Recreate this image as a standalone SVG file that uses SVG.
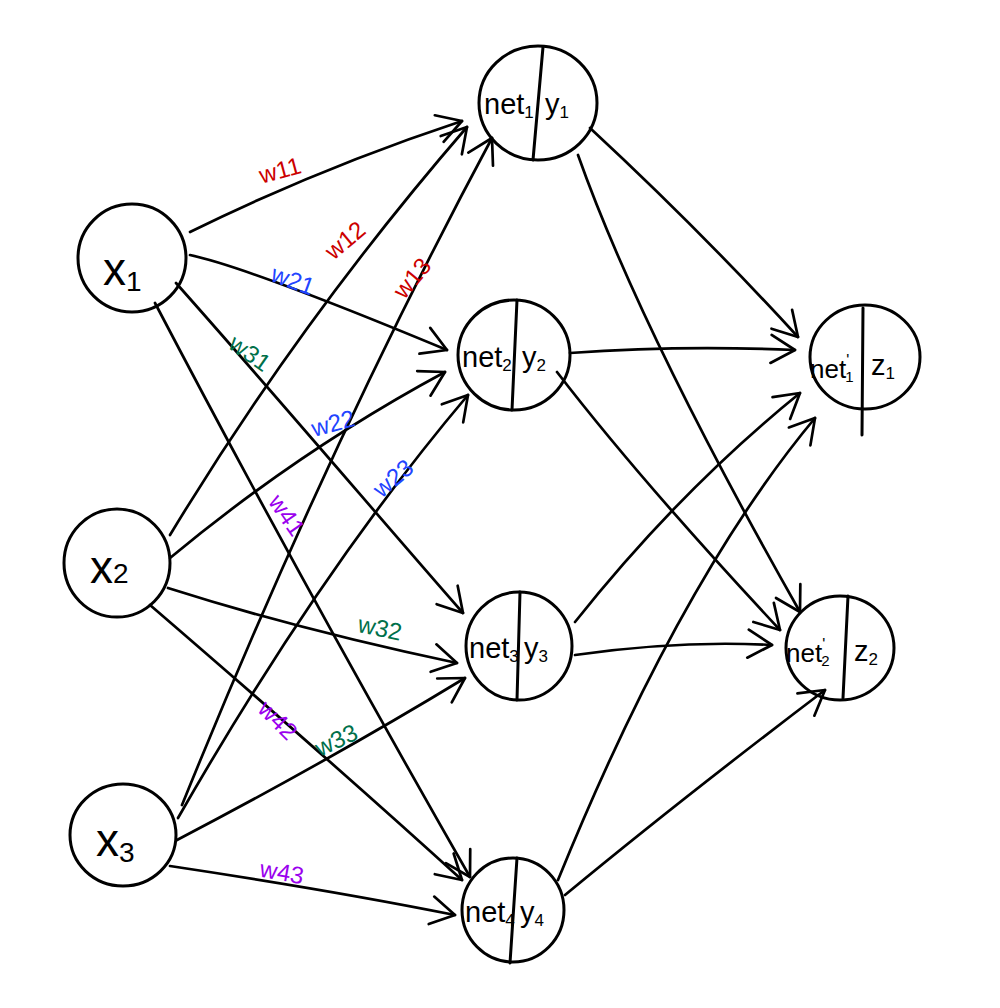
<svg xmlns="http://www.w3.org/2000/svg" width="1000" height="1008" viewBox="0 0 1000 1008">
<style>
.node{fill:none;stroke:#000;stroke-width:3;stroke-linecap:round}
.edge{fill:none;stroke:#000;stroke-width:2.7;stroke-linecap:round}
.t{font-family:"Liberation Sans",Arial,sans-serif;fill:#000}
.w{font-family:"Liberation Sans",Arial,sans-serif;font-size:24px;text-anchor:middle;dominant-baseline:central}
.r{fill:#cc0000}.b{fill:#2244ff}.g{fill:#00704a}.p{fill:#9a00ee}
</style>
<defs>
<marker id="ar" markerUnits="userSpaceOnUse" markerWidth="40" markerHeight="40" viewBox="-30 -20 40 40" refX="0" refY="0" orient="auto">
<path d="M-24,-14 L0,0 L-24,14" fill="none" stroke="#000" stroke-width="2.7" stroke-linecap="round" stroke-linejoin="round"/>
</marker>
</defs>
<rect width="1000" height="1008" fill="#fff"/>
<g id="connectors">
<path class="edge" marker-end="url(#ar)" d="M190,232 Q320,168 462,121"/>
<path class="edge" marker-end="url(#ar)" d="M190,255 Q250,268 447,350"/>
<path class="edge" marker-end="url(#ar)" d="M176,283 C280,400 390,530 463,613"/>
<path class="edge" marker-end="url(#ar)" d="M155,303 Q300,580 470,877"/>
<path class="edge" marker-end="url(#ar)" d="M170,535 Q300,320 467,127"/>
<path class="edge" marker-end="url(#ar)" d="M170,558 Q300,450 445,372"/>
<path class="edge" marker-end="url(#ar)" d="M168,588 Q300,630 457,663"/>
<path class="edge" marker-end="url(#ar)" d="M150,605 Q330,760 462,880"/>
<path class="edge" marker-end="url(#ar)" d="M182,805 Q330,440 492,138"/>
<path class="edge" marker-end="url(#ar)" d="M178,818 Q320,570 468,395"/>
<path class="edge" marker-end="url(#ar)" d="M177,840 Q330,760 465,678"/>
<path class="edge" marker-end="url(#ar)" d="M170,866 Q330,890 455,915"/>
<path class="edge" marker-end="url(#ar)" d="M590,128 Q700,230 798,337"/>
<path class="edge" marker-end="url(#ar)" d="M578,155 Q640,330 800,612"/>
<path class="edge" marker-end="url(#ar)" d="M570,353 Q680,345 795,350"/>
<path class="edge" marker-end="url(#ar)" d="M557,372 Q640,480 780,630"/>
<path class="edge" marker-end="url(#ar)" d="M575,622 Q680,490 800,393"/>
<path class="edge" marker-end="url(#ar)" d="M575,655 Q680,640 772,645"/>
<path class="edge" marker-end="url(#ar)" d="M558,880 Q680,580 815,418"/>
<path class="edge" marker-end="url(#ar)" d="M565,895 Q680,800 825,690"/>
</g>
<g id="weights">
<text class="w r" transform="translate(280,170) rotate(-15)">w11</text>
<text class="w r" transform="translate(345,240) rotate(-40)">w12</text>
<text class="w r" transform="translate(412,278) rotate(-50)">w13</text>
<text class="w b" transform="translate(293,280) rotate(20)">w21</text>
<text class="w g" transform="translate(250,353) rotate(35)">w31</text>
<text class="w b" transform="translate(333,423) rotate(-15)">w22</text>
<text class="w b" transform="translate(393,478) rotate(-40)">w23</text>
<text class="w p" transform="translate(287,515) rotate(55)">w41</text>
<text class="w g" transform="translate(380,628) rotate(12)">w32</text>
<text class="w p" transform="translate(278,720) rotate(45)">w42</text>
<text class="w g" transform="translate(336,740) rotate(-25)">w33</text>
<text class="w p" transform="translate(282,872) rotate(10)">w43</text>
</g>
<g id="x1">
<ellipse class="node" cx="132" cy="258" rx="54" ry="54"/>
<text class="t" x="103" y="285" font-size="46">x<tspan font-size="28" dy="6">1</tspan></text>
</g>
<g id="x2">
<ellipse class="node" cx="117" cy="563" rx="53" ry="54"/>
<text class="t" x="90" y="583" font-size="46">x<tspan font-size="28" dy="0">2</tspan></text>
</g>
<g id="x3">
<ellipse class="node" cx="123" cy="835" rx="53" ry="51"/>
<text class="t" x="96" y="856" font-size="46">x<tspan font-size="28" dy="6">3</tspan></text>
</g>
<g id="h1">
<ellipse class="node" cx="538" cy="103" rx="59" ry="57"/>
<line class="node" x1="543" y1="47" x2="533" y2="160"/>
<text class="t" x="484" y="114" font-size="29">net<tspan font-size="17" dy="4">1</tspan></text>
<text class="t" x="545" y="114" font-size="29">y<tspan font-size="17" dy="4">1</tspan></text>
</g>
<g id="h2">
<ellipse class="node" cx="514" cy="355" rx="56" ry="55"/>
<line class="node" x1="517" y1="300" x2="512" y2="410"/>
<text class="t" x="462" y="367" font-size="29">net<tspan font-size="17" dy="4">2</tspan></text>
<text class="t" x="522" y="367" font-size="29">y<tspan font-size="17" dy="4">2</tspan></text>
</g>
<g id="h3">
<ellipse class="node" cx="519" cy="646" rx="53" ry="54"/>
<line class="node" x1="520" y1="592" x2="517" y2="700"/>
<text class="t" x="469" y="658" font-size="29">net<tspan font-size="17" dy="4">3</tspan></text>
<text class="t" x="524" y="658" font-size="29">y<tspan font-size="17" dy="4">3</tspan></text>
</g>
<g id="h4">
<ellipse class="node" cx="513" cy="910" rx="51" ry="52"/>
<line class="node" x1="517" y1="858" x2="510" y2="963"/>
<text class="t" x="465" y="922" font-size="29">net<tspan font-size="17" dy="4">4</tspan></text>
<text class="t" x="520" y="922" font-size="29">y<tspan font-size="17" dy="4">4</tspan></text>
</g>
<g id="o1">
<ellipse class="node" cx="865" cy="357" rx="55" ry="52"/>
<line class="node" x1="863" y1="308" x2="862" y2="435"/>
<text class="t" x="810" y="378" font-size="26">net<tspan font-size="16" dy="-12">'</tspan><tspan font-size="15" dx="-4" dy="16">1</tspan></text>
<text class="t" x="871" y="375" font-size="29">z<tspan font-size="17" dy="4">1</tspan></text>
</g>
<g id="o2">
<ellipse class="node" cx="840" cy="648" rx="54" ry="52"/>
<line class="node" x1="848" y1="596" x2="843" y2="698"/>
<text class="t" x="786" y="662" font-size="26">net<tspan font-size="16" dy="-12">'</tspan><tspan font-size="15" dx="-4" dy="16">2</tspan></text>
<text class="t" x="854" y="661" font-size="29">z<tspan font-size="17" dy="4">2</tspan></text>
</g>
</svg>
